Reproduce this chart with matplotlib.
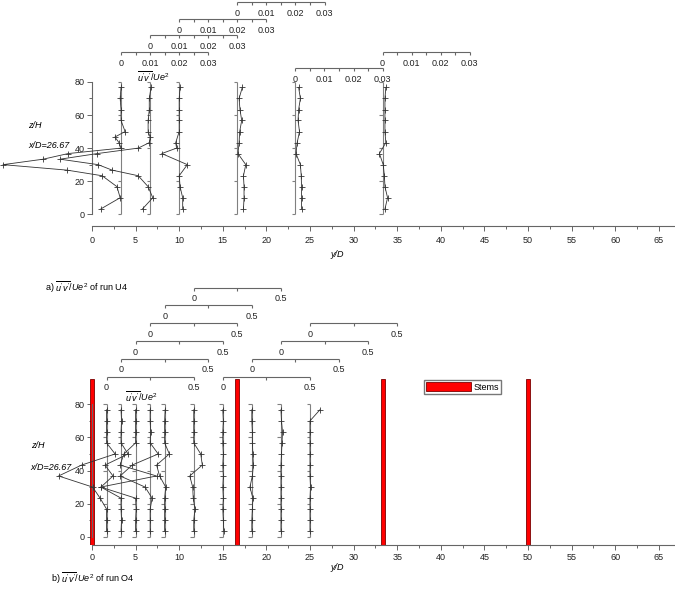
import numpy as np
import matplotlib
matplotlib.use('agg')
import matplotlib.pyplot as plt

plt.rcParams['font.family'] = ['Liberation Sans', 'DejaVu Sans']
plt.rcParams['mathtext.fontset'] = 'custom'
plt.rcParams['mathtext.rm'] = 'Liberation Sans'
plt.rcParams['mathtext.it'] = 'Liberation Sans:italic'
plt.rcParams['font.size'] = 6.5

# ---- panel a) run U4, u'v'/Ue^2 profiles (x/D = 26.67) ----
a_pos = [3.33, 6.67, 10.0, 16.67, 23.33, 33.33]
a_level = [1, 2, 3, 4, 0, 1]          # stagger of the little scale bars on top
a_z_fine = [3.3, 10, 16.7, 23.3, 26.7, 30, 33.3, 36.7, 40, 43.3, 46.7, 50, 56.7, 63.3, 70, 76.7]
a_z_mid = [3.3, 10, 16.7, 23.3, 30, 36.7, 40, 43.3, 50, 56.7, 63.3, 70, 76.7]
a_z = [3.3, 10, 16.7, 23.3, 30, 36.7, 43.3, 50, 56.7, 63.3, 70, 76.7]
a1 = [-0.0069, -0.0003, -0.0014, -0.0065, -0.0186, -0.0406, -0.0268, -0.0182,
      0.0, -0.0007, -0.0021, 0.0014, 0.0, 0.0, -0.0003, 0.0]
a2 = [-0.0026, 0.0009, -0.0007, -0.0041, -0.0131, -0.0179, -0.031, -0.0182,
      -0.0041, -0.0003, 0.0, -0.0007, -0.0007, -0.0003, -0.0003, 0.0003]
a3 = [0.0012, 0.0012, 0.0003, 0.0, 0.0028, -0.006, -0.0009, -0.0012, 0.0, 0.0, 0.0, 0.0, 0.0003]
a4 = [0.0021, 0.0023, 0.0023, 0.0021, 0.0029, 0.0002, 0.0006, 0.0008, 0.0015, 0.0009, 0.0006, 0.0017]
a5 = [0.0021, 0.0021, 0.0021, 0.002, 0.0017, 0.0002, 0.0006, 0.0014, 0.0009, 0.0011, 0.0017, 0.0011]
a6 = [0.0008, 0.0017, 0.0008, 0.0006, 0.0002, -0.0011, 0.0011, 0.0008, 0.0008, 0.0008, 0.0008, 0.0011]
a_profiles = [(a_z_fine, a1), (a_z_fine, a2), (a_z_mid, a3), (a_z, a4), (a_z, a5), (a_z, a6)]
a_scale = 0.003                      # u'v'/Ue^2 per unit of y/D
a_ticks = [0, 0.005, 0.01, 0.015, 0.02, 0.025, 0.03]
a_ticklabels = ['0', '', '0.01', '', '0.02', '', '0.03']

# ---- panel b) run O4 ----
b_pos = [1.67, 3.33, 5.0, 6.67, 8.33, 11.67, 15.0, 18.33, 21.67, 25.0]
b_level = [0, 1, 2, 3, 4, 5, 0, 1, 2, 3]
b_z = [3.3, 10, 16.7, 23.3, 30, 36.7, 43.3, 50, 56.7, 63.3, 70, 76.7]
b1 = [0, 0, 0, -0.037, -0.08, -0.275, -0.143, 0.049, 0, 0, 0, 0]
b2 = [0, 0.003, 0, 0, -0.115, -0.046, -0.092, 0.04, 0, 0, 0.003, 0]
b3 = [0, 0, 0.003, 0, -0.2, 0.12, -0.089, -0.067, 0, 0, 0, 0]
b4 = [0, 0, 0, 0.011, -0.029, -0.172, -0.103, 0.046, 0, 0.003, 0, 0]
b5 = [0, 0, 0, 0, 0.006, -0.029, -0.046, 0.027, 0, 0, 0, 0.003]
b6 = [0, 0, 0.007, -0.003, -0.006, -0.023, 0.049, 0.04, 0, 0, 0, 0]
b7 = [0.006, 0.003, 0, 0.003, 0, 0.003, 0, 0.003, 0, 0, 0.003, 0]
b8 = [0, 0, 0.003, 0.006, -0.011, 0.003, 0.009, 0.006, 0.003, 0.003, 0, 0]
b9 = [0, 0, 0, 0, 0, 0, 0, 0.003, 0.006, 0.009, 0.003, 0]
b10 = [0, 0, 0, 0, 0.003, 0, 0, 0, 0, 0, 0, 0.057]
b_profiles = [b1, b2, b3, b4, b5, b6, b7, b8, b9, b10]
b_scale = 0.05
b_ticks = [0, 0.25, 0.5]
b_ticklabels = ['0', '', '0.5']

stems = [0, 16.67, 33.33, 50]
stem_top = 95.3

W, H = 675, 590
fig = plt.figure(figsize=(W / 100, H / 100), dpi=100)
ax_a = fig.add_axes([0, 1 - 226 / H, 1, 226 / H])
ax_b = fig.add_axes([0, 1 - 545 / H, 1, (545 - 280) / H])

xmin, xmax = -10.55, 66.86
ax_a.set_ylim(-7.07, 129.5)
ax_b.set_ylim(-5, 155.1)

grey = '#666666'
for ax in (ax_a, ax_b):
    ax.set_xlim(xmin, xmax)
    ax.patch.set_visible(False)
    ax.spines[['top', 'right']].set_visible(False)
    ax.spines['left'].set_position(('data', 0))
    ax.spines['left'].set_bounds(0, 80)
    ax.spines['bottom'].set_bounds(0, xmax)
    for s in ('left', 'bottom'):
        ax.spines[s].set_color(grey)
        ax.spines[s].set_linewidth(0.8)
    ax.set_yticks([0, 20, 40, 60, 80])
    ax.set_yticks([10, 30, 50, 70], minor=True)
    ax.set_xticks(np.arange(0, 66, 5))
    ax.set_xticks(np.arange(2.5, 66, 5), minor=True)
    ax.tick_params(which='both', direction='out', color=grey, width=0.7,
                   labelsize=6.5, labelcolor='#222222', pad=2)
    ax.tick_params(which='major', length=3.5)
    ax.tick_params(which='minor', length=2)

ax_a.tick_params(axis='x', which='both', pad=4)
ax_a.set_xlabel('y/D', style='italic', fontsize=6.5, labelpad=3)
ax_b.set_xlabel('y/D', style='italic', fontsize=6.5, labelpad=1)


def draw_profile(ax, x0, z, vals, scale, row_z, ticks, labels, lab_off):
    # profile axis bracket
    ax.vlines(x0, 0, 80, color='#808080', lw=0.8)
    ax.hlines([0, 20, 40, 60, 80], x0 - 0.4, x0, color='#808080', lw=0.8)
    xs = x0 + np.array(vals) / scale
    ax.plot(xs, z, '-', color='#333333', lw=0.6, marker='+', ms=5, mew=0.6,
            clip_on=False, zorder=3)
    # little scale bar on top
    ax.hlines(row_z, x0, x0 + ticks[-1] / scale, color=grey, lw=0.8)
    for t, lab in zip(ticks, labels):
        ax.vlines(x0 + t / scale, row_z - 1.8, row_z, color=grey, lw=0.8)
        if lab:
            ax.text(x0 + t / scale, row_z - lab_off, lab, ha='center', va='center',
                    fontsize=6.5, color='#222222')


for x0, lev, (z, v) in zip(a_pos, a_level, a_profiles):
    draw_profile(ax_a, x0, z, v, a_scale, 88.2 + 10 * lev, a_ticks, a_ticklabels, 7)

for x0, lev, v in zip(b_pos, b_level, b_profiles):
    draw_profile(ax_b, x0, b_z, v, b_scale, 96.5 + 10.8 * lev, b_ticks, b_ticklabels, 6.5)

ax_b.bar(stems, stem_top + 5, bottom=-5, width=0.45, color='#ff0000',
         edgecolor='#7a0000', lw=0.6, label='Stems', zorder=2)
ax_b.legend(loc='upper left', bbox_to_anchor=(424 / W, 1 - 380 / H),
            bbox_transform=fig.transFigure, borderaxespad=0, fancybox=False,
            edgecolor='#777777', framealpha=1, borderpad=0.25, handlelength=5.0,
            handleheight=1.1, handletextpad=0.25, fontsize=6.5)

uv = r"$\overline{u'v'}/Ue^2$"
fig.text(28 / W, 1 - 125 / H, 'z/H', style='italic', va='center')
fig.text(28 / W, 1 - 146 / H, 'x/D=26.67', style='italic', va='center')
fig.text(153 / W, 1 - 77 / H, uv, ha='center', va='center')
fig.text(45 / W, 1 - 287 / H, r"a) $\overline{u'v'}/Ue^{2}$ of run U4", va='center')

fig.text(31 / W, 1 - 445 / H, 'z/H', style='italic', va='center')
fig.text(30 / W, 1 - 467 / H, 'x/D=26.67', style='italic', va='center')
fig.text(141 / W, 1 - 397 / H, uv, ha='center', va='center')
fig.text(51 / W, 1 - 578 / H, r"b) $\overline{u'v'}/Ue^{2}$ of run O4", va='center')

fig.savefig('out.png', dpi=100)
